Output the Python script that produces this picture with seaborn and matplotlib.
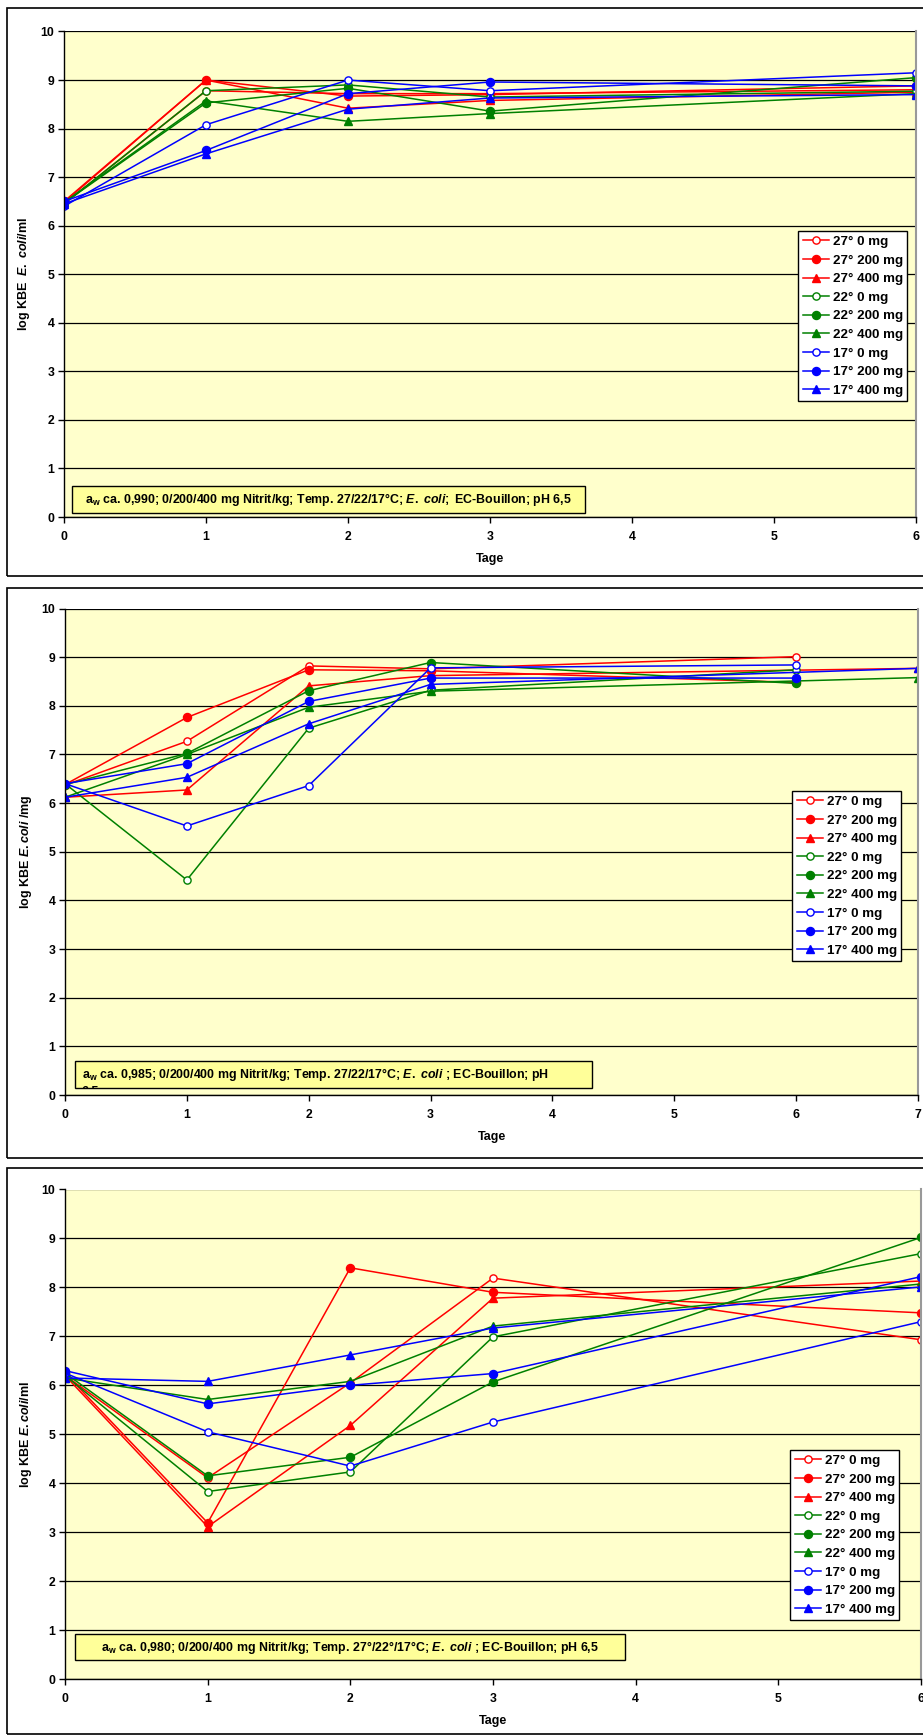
import matplotlib
matplotlib.use("Agg")
import matplotlib.pyplot as plt
from matplotlib.patches import Rectangle
from matplotlib.lines import Line2D
import seaborn as sns

# ---------------- data ----------------
labels = ["27° 0 mg", "27° 200 mg", "27° 400 mg",
          "22° 0 mg", "22° 200 mg", "22° 400 mg",
          "17° 0 mg", "17° 200 mg", "17° 400 mg"]

p1_days = [0, 1, 2, 3, 6]
p1_27_0 = [6.45, 8.78, 8.72, 8.72, 8.80]
p1_27_200 = [6.50, 9.00, 8.67, 8.70, 8.88]
p1_27_400 = [6.48, 9.00, 8.42, 8.58, 8.75]
p1_22_0 = [6.45, 8.78, 8.90, 8.65, 8.77]
p1_22_200 = [6.47, 8.53, 8.83, 8.36, 9.05]
p1_22_400 = [6.48, 8.57, 8.15, 8.31, 8.72]
p1_17_0 = [6.40, 8.08, 9.00, 8.78, 9.15]
p1_17_200 = [6.50, 7.55, 8.72, 8.96, 8.88]
p1_17_400 = [6.45, 7.48, 8.40, 8.63, 8.70]

p2_days_a = [0, 1, 2, 3, 6]   # 0 mg and 200 mg series
p2_days_b = [0, 1, 2, 3, 7]   # 400 mg series
p2_27_0 = [6.37, 7.27, 8.82, 8.76, 9.01]
p2_27_200 = [6.38, 7.76, 8.74, 8.72, 8.48]
p2_27_400 = [6.12, 6.27, 8.41, 8.62, 8.77]
p2_22_0 = [6.40, 4.42, 7.54, 8.32, 8.74]
p2_22_200 = [6.38, 7.02, 8.31, 8.89, 8.46]
p2_22_400 = [6.12, 7.00, 7.97, 8.30, 8.58]
p2_17_0 = [6.40, 5.53, 6.36, 8.78, 8.84]
p2_17_200 = [6.40, 6.81, 8.09, 8.57, 8.57]
p2_17_400 = [6.12, 6.53, 7.63, 8.44, 8.77]

p3_days = [0, 1, 2, 3, 6]
p3_27_0 = [6.20, 4.11, 6.05, 8.19, 6.93]
p3_27_200 = [6.25, 3.19, 8.40, 7.90, 7.48]
p3_27_400 = [6.20, 3.11, 5.18, 7.78, 8.13]
p3_22_0 = [6.20, 3.83, 4.23, 6.99, 8.69]
p3_22_200 = [6.25, 4.15, 4.53, 6.07, 9.02]
p3_22_400 = [6.15, 5.71, 6.08, 7.21, 8.07]
p3_17_0 = [6.25, 5.05, 4.35, 5.25, 7.30]
p3_17_200 = [6.30, 5.62, 6.00, 6.24, 8.22]
p3_17_400 = [6.15, 6.08, 6.62, 7.17, 8.01]

y_ticks = list(range(0, 11))

# ---------------- style ----------------
plt.rcParams["font.family"] = ["Liberation Sans", "DejaVu Sans"]
plt.rcParams["font.weight"] = "bold"
plt.rcParams["axes.labelweight"] = "bold"
plt.rcParams["mathtext.fontset"] = "custom"
plt.rcParams["mathtext.rm"] = "Liberation Sans:bold"
plt.rcParams["mathtext.bf"] = "Liberation Sans:bold"
plt.rcParams["mathtext.it"] = "Liberation Sans:italic:bold"

RED, GREEN, BLUE = "#FF0000", "#008000", "#0000FF"
colors = [RED, RED, RED, GREEN, GREEN, GREEN, BLUE, BLUE, BLUE]
markers = ["o", "o", "^"] * 3
faces = ["white", None, None] * 3
msizes = [5.2, 5.8, 5.8] * 3

W, H = 923, 1735
fig = plt.figure(figsize=(W / 100, H / 100), dpi=100)
fig.patch.set_facecolor("white")


def fxy(x, y):
    return x / W, 1 - y / H


def frame(top, bottom):
    fig.patches.append(Rectangle(fxy(7, bottom), (W + 20) / W, (bottom - top) / H,
                                 transform=fig.transFigure, fill=False,
                                 edgecolor="black", linewidth=1.2, zorder=0))


def make_axes(x0, x1, ytop, ybot, xmax):
    ax = fig.add_axes([x0 / W, 1 - ybot / H, (x1 - x0) / W, (ybot - ytop) / H])
    ax.set_facecolor("#FFFFCC")
    ax.set_xlim(0, xmax)
    ax.set_ylim(0, 10)
    ax.set_xticks(list(range(0, xmax + 1)))
    ax.set_yticks(y_ticks)
    ax.grid(axis="y", color="black", linewidth=0.9)
    ax.grid(axis="x", visible=False)
    ax.set_axisbelow(True)
    for s in ["left", "bottom"]:
        ax.spines[s].set_color("black")
        ax.spines[s].set_linewidth(1.0)
    ax.spines["top"].set_visible(False)
    ax.spines["right"].set_color("#999999")
    ax.spines["right"].set_linewidth(1.5)
    ax.tick_params(axis="both", direction="out", length=4, width=1,
                   labelsize=8.8, colors="black")
    ax.tick_params(axis="x", pad=6)
    ax.tick_params(axis="y", pad=3)
    return ax


def draw(ax, days_list, series):
    for i, vals in enumerate(series):
        kw = dict(color=colors[i], marker=markers[i], markersize=msizes[i],
                  markeredgecolor=colors[i], markeredgewidth=1.0, linewidth=1.1)
        if faces[i]:
            kw["markerfacecolor"] = faces[i]
        sns.lineplot(x=days_list[i], y=vals, ax=ax, errorbar=None, legend=False, **kw)
    ax.set_xlabel("")
    ax.set_ylabel("")


def legend(ax, left, top):
    handles = []
    for i in range(9):
        handles.append(Line2D([], [], color=colors[i], marker=markers[i], markersize=msizes[i],
                              markerfacecolor=faces[i] if faces[i] else colors[i],
                              markeredgecolor=colors[i], linewidth=1.1))
    leg = ax.legend(handles, labels, loc="upper left", bbox_to_anchor=fxy(left, top),
                    bbox_transform=fig.transFigure, frameon=True, fancybox=False,
                    edgecolor="black", framealpha=1, borderaxespad=0, fontsize=9.6,
                    labelspacing=0.47, handlelength=2.0, handletextpad=0.25,
                    borderpad=0.35)
    leg.get_frame().set_linewidth(1.0)
    leg.set_zorder(10)


def fig_to_axes_x(ax, px):
    pos = ax.get_position()
    return (px / W - pos.x0) / pos.width


def labels_axes(ax, ytop, ybot, ylabel, ylab_x):
    h = ybot - ytop
    ax.set_xlabel("Tage", fontsize=9, fontweight="bold", va="center")
    ax.xaxis.set_label_coords(0.5, -42 / h)
    ax.set_ylabel(ylabel, fontsize=9, fontweight="bold", va="center")
    ax.yaxis.set_label_coords(fig_to_axes_x(ax, ylab_x), 0.5)


def note(x0, x1, top, bottom, text, ha="center", tx=None, ty=None):
    rect = Rectangle(fxy(x0, bottom), (x1 - x0) / W, (bottom - top) / H,
                     transform=fig.transFigure, facecolor="#FFFF99",
                     edgecolor="black", linewidth=1.0, zorder=5)
    fig.patches.append(rect)
    if ha == "center":
        fig.text(*fxy((x0 + x1) / 2, (top + bottom) / 2), text, ha="center",
                 va="center", fontsize=8.9, fontweight="bold", zorder=6)
    else:
        t = fig.text(*fxy(tx, ty), text, ha="left", va="top", fontsize=8.9,
                     fontweight="bold", zorder=6, linespacing=1.35)
        t.set_clip_path(rect)
        t.set_clip_on(True)


# ---------------- panel 1 ----------------
frame(8, 576)
ax1 = make_axes(64, 916, 31.5, 517, 6)
draw(ax1, [p1_days] * 9, [p1_27_0, p1_27_200, p1_27_400, p1_22_0, p1_22_200,
                          p1_22_400, p1_17_0, p1_17_200, p1_17_400])
legend(ax1, 798, 231)
labels_axes(ax1, 31.5, 517, r"log KBE  $\mathit{E.\ coli}$/ml", 23.5)
note(72, 585, 486, 513,
     r"$\mathrm{a}_\mathrm{w}$ ca. 0,990; 0/200/400 mg Nitrit/kg; Temp. 27/22/17°C; "
     r"$\mathit{E.\ coli;}$ EC-Bouillon; pH 6,5")

# ---------------- panel 2 ----------------
frame(588, 1158)
ax2 = make_axes(65, 918, 608.5, 1095, 7)
draw(ax2, [p2_days_a, p2_days_a, p2_days_b] * 3,
     [p2_27_0, p2_27_200, p2_27_400, p2_22_0, p2_22_200, p2_22_400,
      p2_17_0, p2_17_200, p2_17_400])
legend(ax2, 792, 791)
labels_axes(ax2, 608.5, 1095, r"log KBE $\mathit{E.coli}$ /mg", 26.5)
note(75, 592, 1061, 1088,
     r"$\mathrm{a}_\mathrm{w}$ ca. 0,985; 0/200/400 mg Nitrit/kg; Temp. 27/22/17°C; "
     r"$\mathit{E.\ coli}$ ; EC-Bouillon; pH" + "\n6,5",
     ha="left", tx=82, ty=1066)

# ---------------- panel 3 ----------------
frame(1168, 1734)
ax3 = make_axes(65, 921, 1189.5, 1679, 6)
draw(ax3, [p3_days] * 9, [p3_27_0, p3_27_200, p3_27_400, p3_22_0, p3_22_200,
                          p3_22_400, p3_17_0, p3_17_200, p3_17_400])
legend(ax3, 790, 1450)
labels_axes(ax3, 1189.5, 1679, r"log KBE $\mathit{E.coli}$/ml", 26.5)
note(75, 625, 1634, 1660,
     r"$\mathrm{a}_\mathrm{w}$ ca. 0,980; 0/200/400 mg Nitrit/kg; Temp. 27°/22°/17°C; "
     r"$\mathit{E.\ coli}$ ; EC-Bouillon; pH 6,5")

fig.savefig("out.png", dpi=100, facecolor="white")
